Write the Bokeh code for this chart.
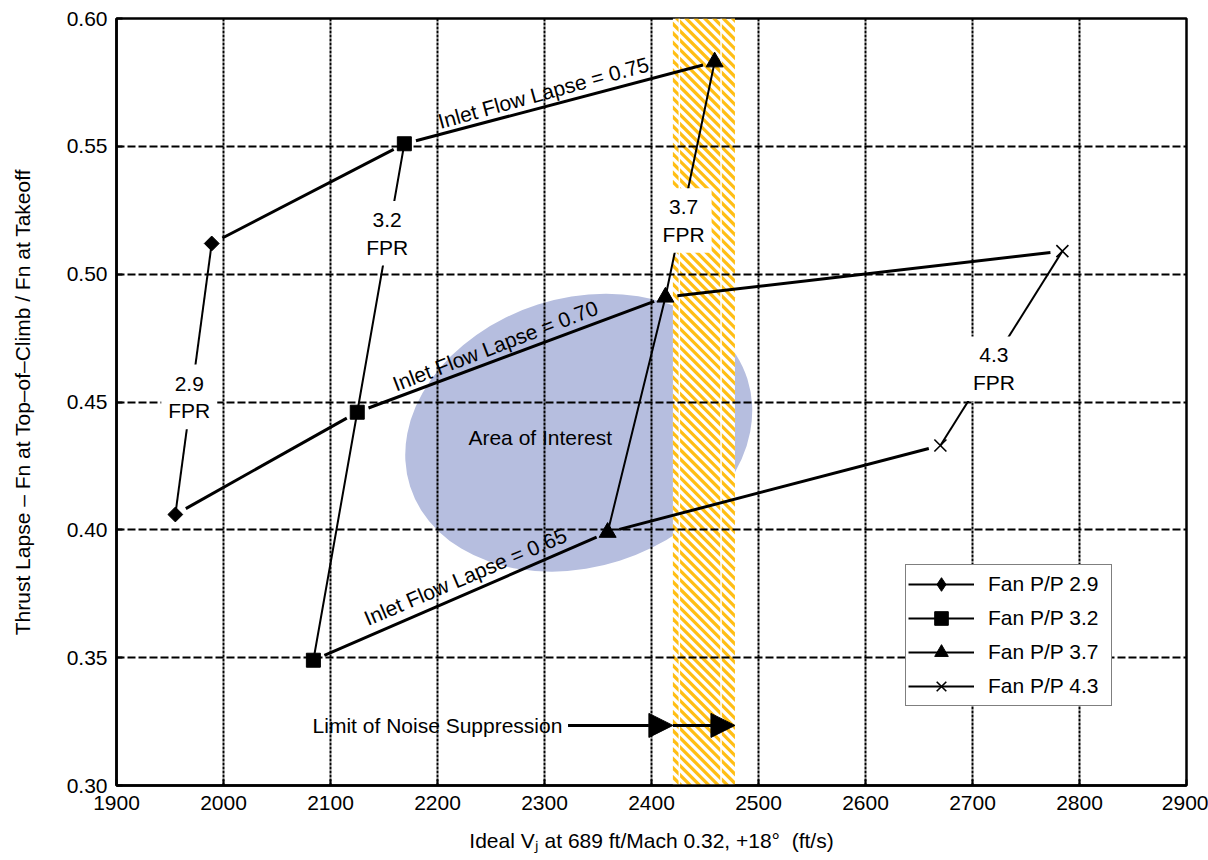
import numpy as np
from bokeh.plotting import figure
from bokeh.models import (Range1d, FixedTicker, PrintfTickFormatter, Label, Legend,
                          LegendItem, Arrow, NormalHead)
from bokeh.embed import file_html
from bokeh.resources import INLINE

FONT = "Liberation Sans"
FS = "21px"
ORANGE = "#FFBE14"
ELLIPSE_COLOR = "#B6BEDF"

# ---------------- data ----------------
x_ticks = [1900, 2000, 2100, 2200, 2300, 2400, 2500, 2600, 2700, 2800, 2900]
y_ticks = [0.30, 0.35, 0.40, 0.45, 0.50, 0.55, 0.60]

series_names = ["Fan P/P 2.9", "Fan P/P 3.2", "Fan P/P 3.7", "Fan P/P 4.3"]
fpr29_x = [1989, 1955]
fpr29_y = [0.512, 0.406]
fpr32_x = [2169, 2125, 2084]
fpr32_y = [0.551, 0.446, 0.349]
fpr37_x = [2459, 2413, 2359]
fpr37_y = [0.583, 0.491, 0.399]
fpr43_x = [2784, 2670]
fpr43_y = [0.509, 0.433]

fpr_label_text = ["2.9\nFPR", "3.2\nFPR", "3.7\nFPR", "4.3\nFPR"]
fpr_label_x = [1968, 2153, 2430, 2720]
fpr_label_y = [0.452, 0.516, 0.521, 0.463]

lapse_text = ["Inlet Flow Lapse = 0.75", "Inlet Flow Lapse = 0.70", "Inlet Flow Lapse = 0.65"]
lapse_text_x = [2299, 2254, 2226]
lapse_text_y = [0.571, 0.472, 0.3817]
lapse_text_angle = [15.5, 21.0, 23.0]

area_text = "Area of Interest"
area_x, area_y = 2332, 0.438
area_w_px, area_h_px, area_angle = 354, 269, 0.309
area_text_x, area_text_y = 2296, 0.436

band_x0, band_x1 = 2420, 2478
band_inner = [2426, 2465]

noise_text = "Limit of Noise Suppression"
noise_text_x, noise_text_y = 2200, 0.3235
noise_arrow_x = [2322, 2420, 2478]

X0, X1, Y0, Y1 = 1900, 2900, 0.30, 0.60
FW, FH = 1070, 767   # frame size in px

# ---------------- figure ----------------
p = figure(width=1208, height=860, output_backend="svg", toolbar_location=None,
           x_range=Range1d(X0, X1), y_range=Range1d(Y0, Y1),
           min_border_left=116, min_border_right=22, min_border_top=18, min_border_bottom=75)
p.background_fill_color = "white"
p.border_fill_color = "white"
p.outline_line_color = "black"
p.outline_line_width = 2.5

p.xaxis.ticker = FixedTicker(ticks=x_ticks)
p.yaxis.ticker = FixedTicker(ticks=y_ticks)
p.yaxis.formatter = PrintfTickFormatter(format="%.2f")
p.xaxis.axis_label = "Ideal V\u2c7c at 689 ft/Mach 0.32, +18\u00b0\u00a0\u00a0(ft/s)"
p.yaxis.axis_label = "Thrust Lapse \u2013 Fn at Top\u2013of\u2013Climb / Fn at Takeoff"
for ax in (p.xaxis, p.yaxis):
    ax.axis_label_text_font = FONT
    ax.axis_label_text_font_size = FS
    ax.axis_label_text_font_style = "normal"
    ax.axis_label_text_color = "black"
    ax.major_label_text_font = FONT
    ax.major_label_text_font_size = FS
    ax.major_label_text_color = "black"
    ax.axis_line_color = "black"
    ax.axis_line_width = 2.5
    ax.major_tick_in = 6
    ax.major_tick_out = 0
    ax.major_tick_line_width = 2
    ax.major_tick_line_color = "black"
    ax.minor_tick_line_color = None
p.xaxis.major_label_standoff = 10
p.xaxis.axis_label_standoff = 16
p.yaxis.major_label_standoff = 9
p.yaxis.axis_label_standoff = 30

p.xgrid.grid_line_color = "black"
p.xgrid.grid_line_width = 2
p.xgrid.grid_line_dash = "3 1"
p.ygrid.grid_line_color = "black"
p.ygrid.grid_line_width = 2
p.ygrid.grid_line_dash = "8 3"

# area of interest ellipse (under grid)
p.ellipse(x=[area_x], y=[area_y], width=[area_w_px], height=[area_h_px], angle=[area_angle],
          width_units="screen", height_units="screen",
          fill_color=ELLIPSE_COLOR, line_color=None, level="image")

# noise suppression band: white base + orange diagonal stripes clipped to the band
p.quad(left=[band_x0], right=[band_x1], bottom=[Y0], top=[Y1],
       fill_color="white", line_color=None, level="image")

sx_per = FW / (X1 - X0)
sy_per = FH / (Y1 - Y0)


def clip(poly, a, b, c):
    # keep points with a*u + b*v <= c
    out = []
    n = len(poly)
    for i in range(n):
        P = poly[i]
        Q = poly[(i + 1) % n]
        fp = a * P[0] + b * P[1] - c
        fq = a * Q[0] + b * Q[1] - c
        if fp <= 0:
            out.append(P)
        if (fp < 0 < fq) or (fq < 0 < fp):
            t = fp / (fp - fq)
            out.append((P[0] + t * (Q[0] - P[0]), P[1] + t * (Q[1] - P[1])))
    return out


U0 = (band_x0 - X0) * sx_per
U1 = (band_x1 - X0) * sx_per
rect = [(U0, 0.0), (U1, 0.0), (U1, FH), (U0, FH)]
PERIOD, STRIPE = 9.3, 4.6
stripe_xs, stripe_ys = [], []
cval = -U1 - PERIOD
while cval < FH - U0 + PERIOD:
    # stripe: cval <= v - u <= cval + STRIPE
    poly = clip(rect, 1.0, -1.0, -cval)           # u - v <= -cval  -> v - u >= cval
    if poly:
        poly = clip(poly, -1.0, 1.0, cval + STRIPE)  # v - u <= cval + STRIPE
    if len(poly) >= 3:
        stripe_xs.append([X0 + u / sx_per for u, v in poly])
        stripe_ys.append([Y1 - v / sy_per for u, v in poly])
    cval += PERIOD
p.patches(stripe_xs, stripe_ys, fill_color=ORANGE, line_color=None, level="image")
p.segment(x0=band_inner, x1=band_inner, y0=[Y0, Y0], y1=[Y1, Y1],
          line_color="white", line_width=1.5, level="image")

# inlet flow lapse lines with gaps at markers
series_x = [fpr29_x, fpr32_x, fpr37_x, fpr43_x]
series_y = [fpr29_y, fpr32_y, fpr37_y, fpr43_y]
lapse_members = [[(0, 0), (1, 0), (2, 0)],
                 [(0, 1), (1, 1), (2, 1), (3, 0)],
                 [(1, 2), (2, 2), (3, 1)]]
GAP = 12
sx0, sy0, sx1, sy1 = [], [], [], []
for members in lapse_members:
    xs = [series_x[s][i] for s, i in members]
    ys = [series_y[s][i] for s, i in members]
    for k in range(len(xs) - 1):
        dx = xs[k + 1] - xs[k]
        dy = ys[k + 1] - ys[k]
        L = np.hypot(dx * sx_per, dy * sy_per)
        f = GAP / L
        sx0.append(xs[k] + dx * f)
        sy0.append(ys[k] + dy * f)
        sx1.append(xs[k + 1] - dx * f)
        sy1.append(ys[k + 1] - dy * f)
p.segment(x0=sx0, y0=sy0, x1=sx1, y1=sy1, line_color="black", line_width=3)

# FPR lines and markers
items = []
for idx, (name, xs, ys) in enumerate(zip(series_names, series_x, series_y)):
    lr = p.line(xs, ys, line_color="black", line_width=2)
    if idx == 0:
        sr = p.scatter(xs, ys, marker="square", size=10.5, angle=np.pi / 4,
                       fill_color="black", line_color="black")
        # legend-only glyph (hidden) so the legend shows a diamond
        lg = p.scatter(xs, ys, marker="diamond", size=18, fill_color="black",
                       line_color="black", visible=False)
        rends = [lr, lg]
    elif idx == 1:
        sr = p.scatter(xs, ys, marker="square", size=14, fill_color="black", line_color="black")
        rends = [lr, sr]
    elif idx == 2:
        sr = p.scatter(xs, ys, marker="triangle", size=17, fill_color="black", line_color="black")
        rends = [lr, sr]
    else:
        sr = p.scatter(xs, ys, marker="x", size=17, line_color="black", line_width=1.6)
        rends = [lr, sr]
    items.append(LegendItem(label=name, renderers=rends))

# FPR labels
for t, x, y in zip(fpr_label_text, fpr_label_x, fpr_label_y):
    p.add_layout(Label(x=x, y=y, text=t, text_align="center", text_baseline="middle",
                       text_font=FONT, text_font_size=FS, text_color="black",
                       text_line_height=1.2,
                       background_fill_color="white", background_fill_alpha=1.0,
                       padding=7))

# lapse labels
for t, x, y, a in zip(lapse_text, lapse_text_x, lapse_text_y, lapse_text_angle):
    p.add_layout(Label(x=x, y=y, text=t, angle=a, angle_units="deg",
                       text_align="center", text_baseline="middle",
                       text_font=FONT, text_font_size=FS, text_color="black"))

p.add_layout(Label(x=area_text_x, y=area_text_y, text=area_text, text_align="center",
                   text_baseline="middle", text_font=FONT, text_font_size=FS,
                   text_color="black"))

p.add_layout(Label(x=noise_text_x, y=noise_text_y, text=noise_text, text_align="center",
                   text_baseline="middle", text_font=FONT, text_font_size=FS,
                   text_color="black"))
for k in range(len(noise_arrow_x) - 1):
    p.add_layout(Arrow(x_start=noise_arrow_x[k], y_start=noise_text_y,
                       x_end=noise_arrow_x[k + 1], y_end=noise_text_y,
                       line_color="black", line_width=3,
                       end=NormalHead(size=24, fill_color="black", line_color="black")))

legend = Legend(items=items, location=(789, 79))
legend.border_line_color = "black"
legend.border_line_width = 1.5
legend.background_fill_color = "white"
legend.background_fill_alpha = 1.0
legend.label_text_font = FONT
legend.label_text_font_size = FS
legend.label_text_color = "black"
legend.glyph_width = 66
legend.glyph_height = 34
legend.label_height = 34
legend.label_width = 121
legend.label_standoff = 14
legend.spacing = 0
legend.padding = 2
legend.margin = 0
p.add_layout(legend)

open("out.html", "w").write(file_html(p, INLINE))
